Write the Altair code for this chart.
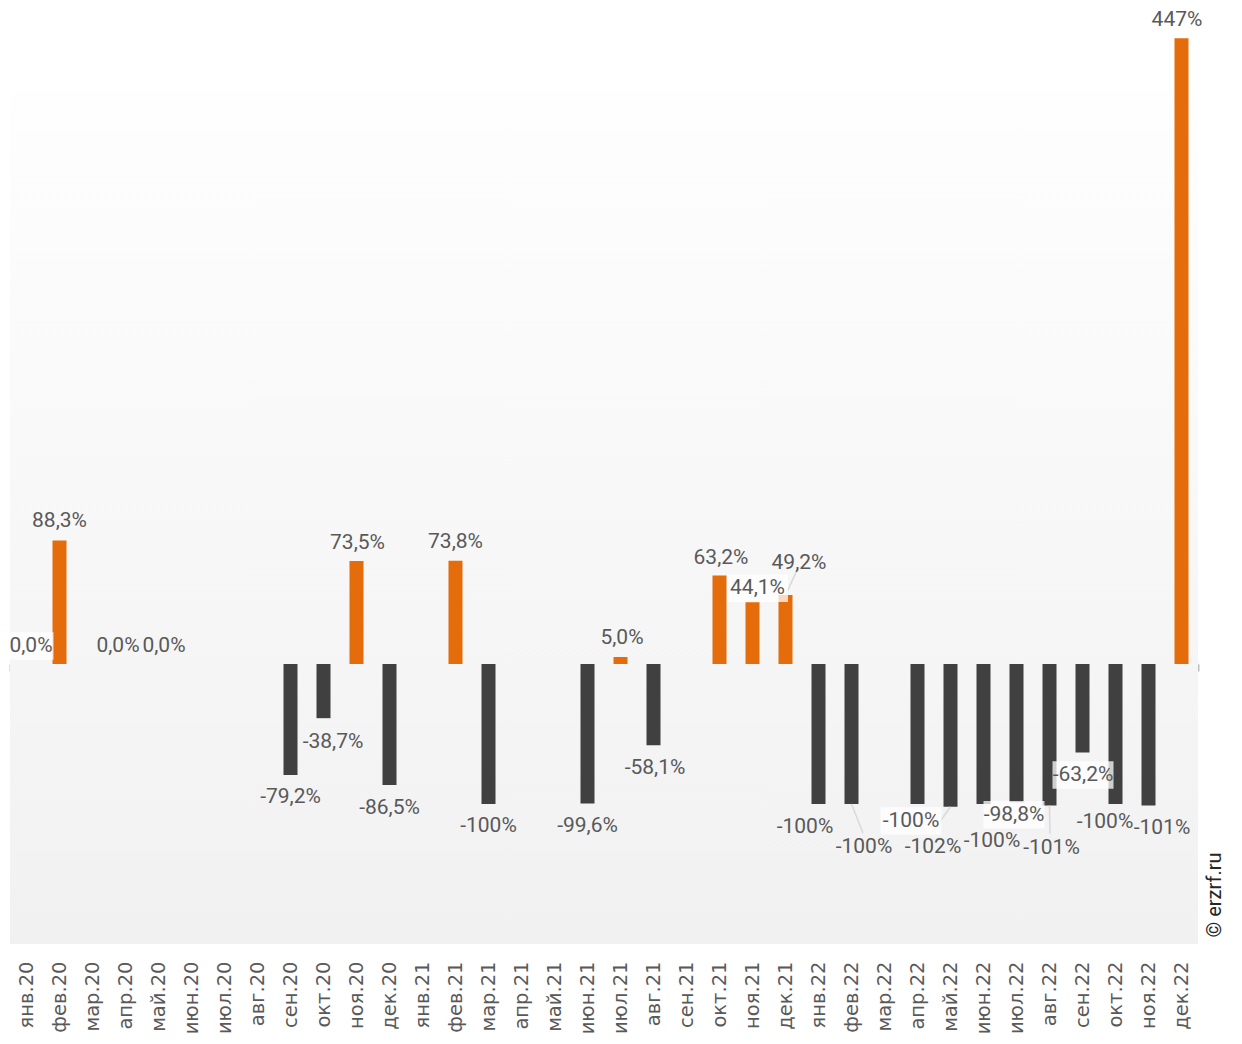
import altair as alt
import pandas as pd

# ---- data ----
months = ["янв.20", "фев.20", "мар.20", "апр.20", "май.20", "июн.20", "июл.20", "авг.20",
          "сен.20", "окт.20", "ноя.20", "дек.20",
          "янв.21", "фев.21", "мар.21", "апр.21", "май.21", "июн.21", "июл.21", "авг.21",
          "сен.21", "окт.21", "ноя.21", "дек.21",
          "янв.22", "фев.22", "мар.22", "апр.22", "май.22", "июн.22", "июл.22", "авг.22",
          "сен.22", "окт.22", "ноя.22", "дек.22"]

bar_months = ["янв.20", "фев.20", "апр.20", "май.20", "сен.20", "окт.20", "ноя.20", "дек.20",
              "фев.21", "мар.21", "июн.21", "июл.21", "авг.21", "окт.21", "ноя.21", "дек.21",
              "янв.22", "фев.22", "апр.22", "май.22", "июн.22", "июл.22", "авг.22", "сен.22",
              "окт.22", "ноя.22", "дек.22"]
values = [0.0, 88.3, 0.0, 0.0, -79.2, -38.7, 73.5, -86.5,
          73.8, -100.0, -99.6, 5.0, -58.1, 63.2, 44.1, 49.2,
          -100.0, -100.0, -100.0, -102.0, -100.0, -98.8, -101.0, -63.2,
          -100.0, -101.0, 447.0]
labels = ["0,0%", "88,3%", "0,0%", "0,0%", "-79,2%", "-38,7%", "73,5%", "-86,5%",
          "73,8%", "-100%", "-99,6%", "5,0%", "-58,1%", "63,2%", "44,1%", "49,2%",
          "-100%", "-100%", "-100%", "-102%", "-100%", "-98,8%", "-101%", "-63,2%",
          "-100%", "-101%", "447%"]

# label placement nudges (pixels, relative to bar end)
label_dx = [4.5, 0, -7.5, 5.5, 0, 9.5, 1, 0,
            0, 0, 0, 1.5, 1.5, 1.5, 5, 13.5,
            -13.5, 12.5, -6.5, -17.5, 8.5, -2.5, 2, 0.5,
            -10.5, 13.5, -4.5]
label_dy = [-18, -19, -18, -18, 22, 24, -18.5, 23,
            -19, 22, 22.5, -19, 22.5, -17.5, -14, -32,
            23, 43, 17, 40, 37, 12.5, 43, 22.5,
            18, 22.5, -18.5]

boxed_months = ["янв.20", "ноя.21", "апр.22", "июл.22", "сен.22"]

# leader lines: (month, end nudge x, end nudge y) in pixels
leader_months = ["дек.21", "фев.22", "май.22", "авг.22"]
leader_dx = [12.5, 11.5, -18.5, 0.5]
leader_dy = [-27, 29, 26, 28]

# ---- layout constants ----
W, H = 1188, 924
YDOM = [-200, 460]
BW = W / len(months)                 # pixels per band
PXU = H / (YDOM[1] - YDOM[0])        # pixels per value unit

# ---- tables ----
df = pd.DataFrame({"month": bar_months, "value": values, "label": labels,
                   "dx": label_dx, "dy": label_dy})
df["idx"] = [months.index(m) for m in bar_months]
df["boxed"] = df["month"].isin(boxed_months)
df["short"] = df["label"].str.len() <= 4

val_of = dict(zip(bar_months, values))
lead_rows = []
for m, ex, ey in zip(leader_months, leader_dx, leader_dy):
    lead_rows.append({"month": m, "idx": months.index(m), "value": val_of[m], "dx": 0.0, "dy": 0.0})
    lead_rows.append({"month": m, "idx": months.index(m), "value": val_of[m], "dx": ex, "dy": ey})
lead_df = pd.DataFrame(lead_rows)

pos_calc = {
    "lx": f"datum.idx + 0.5 + datum.dx / {BW}",
    "ly": f"datum.value - datum.dy / {PXU}",
}

xscale = alt.Scale(domain=months, paddingInner=0, paddingOuter=0)
qscale = alt.Scale(domain=[0, len(months)], nice=False, zero=False)
yscale = alt.Scale(domain=YDOM, nice=False, zero=False)

x_axis = alt.Axis(title=None, orient="bottom", offset=-280, grid=False,
                  domainColor="#BFBFBF", domainWidth=2,
                  tickColor="#BFBFBF", tickWidth=2, tickSize=7, tickBand="extent",
                  labelAngle=-90, labelPadding=290, labelFont="DejaVu Sans",
                  labelFontSize=19.5, labelColor="#595959", labelOverlap=False)

X = alt.X("month:N", sort=months, scale=xscale, axis=x_axis)
XQ = alt.X("lx:Q", scale=qscale, axis=None)
Y = alt.Y("value:Q", scale=yscale, axis=None)
YL = alt.Y("ly:Q", scale=yscale, axis=None)

gradient = alt.LinearGradient(
    gradient="linear",
    stops=[alt.GradientStop(color="#fefefe", offset=0),
           alt.GradientStop(color="#f1f1f1", offset=1)],
    x1=0, x2=0, y1=0, y2=1)

bg = alt.Chart(pd.DataFrame({"a": [410], "b": [YDOM[0]]})).mark_rect(fill=gradient).encode(
    x=alt.value(0), x2=alt.value(W),
    y=alt.Y("a:Q", scale=yscale, axis=None), y2="b:Q")

bars = alt.Chart(df).mark_bar(width=14).encode(
    x=X, y=Y, y2=alt.datum(0),
    color=alt.condition("datum.value > 0", alt.value("#E46C0A"), alt.value("#404040")))

leaders = alt.Chart(lead_df).transform_calculate(**pos_calc).mark_line(
    color="#D9D9D9", strokeWidth=1.5).encode(x=XQ, y=YL, detail="month:N")

box_path = "M-1,-0.45L1,-0.45L1,0.45L-1,0.45Z"
box_path_s = "M-1,-0.61L1,-0.61L1,0.61L-1,0.61Z"
boxes = alt.Chart(df).transform_calculate(**pos_calc).transform_filter(
    "datum.boxed && !datum.short").mark_point(
    shape=box_path, size=3721, filled=True, fill="#ffffff", opacity=0.75,
    strokeWidth=0).encode(x=XQ, y=YL)
boxes_s = alt.Chart(df).transform_calculate(**pos_calc).transform_filter(
    "datum.boxed && datum.short").mark_point(
    shape=box_path_s, size=2025, filled=True, fill="#ffffff", opacity=0.75,
    strokeWidth=0).encode(x=XQ, y=YL)

texts = alt.Chart(df).transform_calculate(**pos_calc).mark_text(
    align="center", baseline="middle", font="Roboto", fontSize=21,
    color="#595959").encode(x=XQ, y=YL, text="label:N")

copyright_text = alt.Chart(pd.DataFrame({"t": ["© erzrf.ru"]})).mark_text(
    angle=270, align="center", baseline="middle", font="Roboto", fontSize=20,
    color="#262626").encode(x=alt.value(W + 17), y=alt.value(875), text="t:N")

chart = alt.layer(bg, bars, leaders, boxes, boxes_s, texts, copyright_text).resolve_scale(
    x="independent").properties(
    width=W, height=H,
    autosize=alt.AutoSizeParams(type="none"),
    padding={"left": 2, "top": 12, "right": 36, "bottom": 92},
    background="#ffffff",
).configure_view(stroke=None)

chart.save("out.html", embed_options={"renderer": "svg", "actions": False})
